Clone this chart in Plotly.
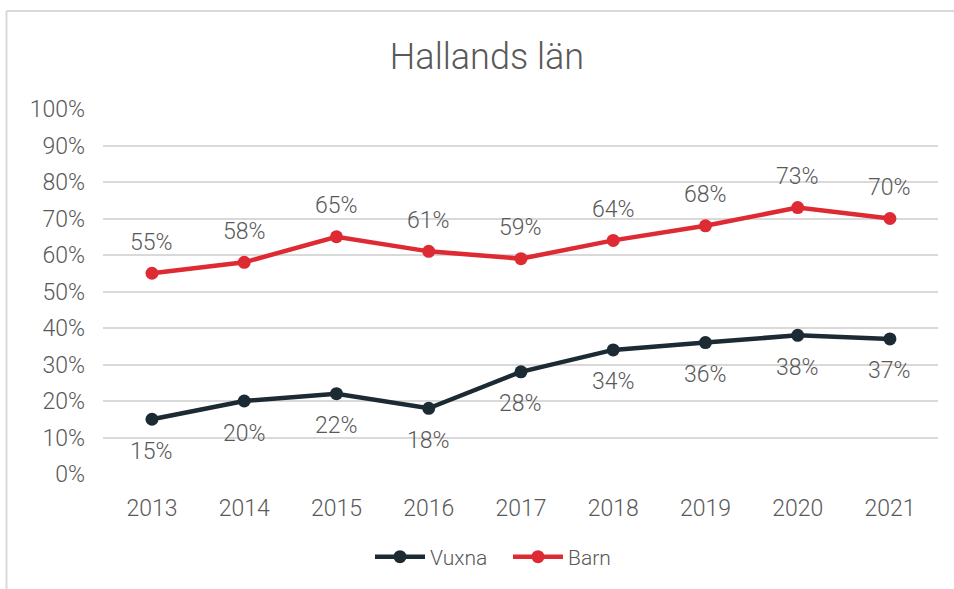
import plotly.graph_objects as go

years = ["2013", "2014", "2015", "2016", "2017", "2018", "2019", "2020", "2021"]
vuxna = [0.15, 0.20, 0.22, 0.18, 0.28, 0.34, 0.36, 0.38, 0.37]
barn = [0.55, 0.58, 0.65, 0.61, 0.59, 0.64, 0.68, 0.73, 0.70]
y_ticks = [0, 0.1, 0.2, 0.3, 0.4, 0.5, 0.6, 0.7, 0.8, 0.9, 1.0]
y_tick_labels = ["0%", "10%", "20%", "30%", "40%", "50%", "60%", "70%", "80%", "90%", "100%"]

FONT = "Roboto"
WEIGHT = 300
GRAY = "#595959"
C_VUX = "#1c2b33"
C_BARN = "#de2a33"
LBL = 23

fig = go.Figure()
fig.add_trace(go.Scatter(
    x=years, y=vuxna, name="Vuxna", mode="lines+markers",
    line=dict(color=C_VUX, width=4.5), marker=dict(size=13, color=C_VUX),
    cliponaxis=False,
))
fig.add_trace(go.Scatter(
    x=years, y=barn, name="Barn", mode="lines+markers",
    line=dict(color=C_BARN, width=4.5), marker=dict(size=13, color=C_BARN),
    cliponaxis=False,
))

annotations = []
for i, yv in enumerate(vuxna):
    annotations.append(dict(x=i, y=yv, xref="x", yref="y", text=f"{round(yv*100)}%",
                            showarrow=False, yshift=-32, xanchor="center", yanchor="middle",
                            font=dict(size=LBL, color=GRAY, family=FONT, weight=WEIGHT)))
for i, yv in enumerate(barn):
    annotations.append(dict(x=i, y=yv, xref="x", yref="y", text=f"{round(yv*100)}%",
                            showarrow=False, yshift=31, xanchor="center", yanchor="middle",
                            font=dict(size=LBL, color=GRAY, family=FONT, weight=WEIGHT)))

L, R, T, B = 103, 16, 109, 115
W, H = 954, 589
pw = W - L - R
ph = H - T - B

fig.update_layout(
    width=W, height=H,
    margin=dict(l=L, r=R, t=T, b=B),
    paper_bgcolor="white", plot_bgcolor="white",
    font=dict(family=FONT, color=GRAY, size=21, weight=WEIGHT),
    title=dict(text="Hallands län", x=487 / W, xanchor="center", xref="container",
               y=1 - 56 / H, yanchor="middle",
               font=dict(size=36, color=GRAY, family=FONT, weight=WEIGHT)),
    showlegend=True,
    legend=dict(orientation="h", x=(370 - L) / pw, xanchor="left",
                y=-(557 - (T + ph)) / ph, yanchor="middle",
                entrywidth=73, entrywidthmode="pixels",
                font=dict(size=21, color=GRAY, family=FONT, weight=WEIGHT), itemwidth=50),
    xaxis=dict(type="category", range=[-0.531, 8.521],
               showgrid=False, showline=False, zeroline=False,
               ticks="", tickfont=dict(size=LBL, color=GRAY, weight=WEIGHT), ticklabelstandoff=18),
    yaxis=dict(range=[0, 1], tickvals=y_ticks, ticktext=y_tick_labels,
               showgrid=True, gridcolor="#d9d9d9", gridwidth=1.5,
               zeroline=False, showline=False, ticks="",
               tickfont=dict(size=LBL, color=GRAY, weight=WEIGHT), ticklabelstandoff=17),
    annotations=annotations,
    shapes=[
        dict(type="line", xref="paper", yref="paper",
             x0=(6.5 - L) / pw, x1=(W + 5 - L) / pw,
             y0=(T + ph - 11) / ph, y1=(T + ph - 11) / ph,
             line=dict(color="#d9d9d9", width=2)),
        dict(type="line", xref="paper", yref="paper",
             x0=(6.5 - L) / pw, x1=(6.5 - L) / pw,
             y0=(T + ph - 11) / ph, y1=(T + ph - H - 5) / ph,
             line=dict(color="#d9d9d9", width=2)),
    ],
)

fig.write_html("out.html", config={"displayModeBar": False},
               post_script="document.body.style.margin='0';document.body.style.overflow='hidden';")
